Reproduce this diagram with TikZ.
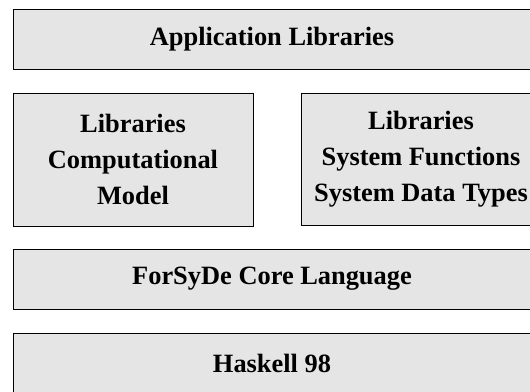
\documentclass[tikz,border=0pt]{standalone}
\usepackage{fontspec}
\setmainfont{Liberation Serif}
\usepackage{tikz}
\usetikzlibrary{positioning}

\begin{document}
\begin{tikzpicture}[x=1pt, y=1pt,
    layer/.style={draw, line width=0.8pt, fill=black!10, inner sep=0pt,
      align=center, font=\fontsize{26.4}{36}\selectfont\bfseries}]
  \useasboundingbox (0,0) rectangle (530,391);

  % top layer
  \node[layer, minimum width=518pt, minimum height=60pt] (applib) at (272, 352) {Application Libraries};

  % middle row
  \node[layer, minimum width=240pt, minimum height=133pt] (compmodel) at (133, 231.5) {Libraries\\Computational\\Model};
  \node[layer, minimum width=240pt, minimum height=132pt] (sysfunc) at (421, 232) {Libraries\\System Functions\\System Data Types};

  % base layers
  \node[layer, minimum width=518pt, minimum height=60pt] (core) at (272, 112) {ForSyDe Core Language};
  \node[layer, minimum width=518pt, minimum height=60pt] (haskell) at (272, 28) {Haskell 98};
\end{tikzpicture}
\end{document}
